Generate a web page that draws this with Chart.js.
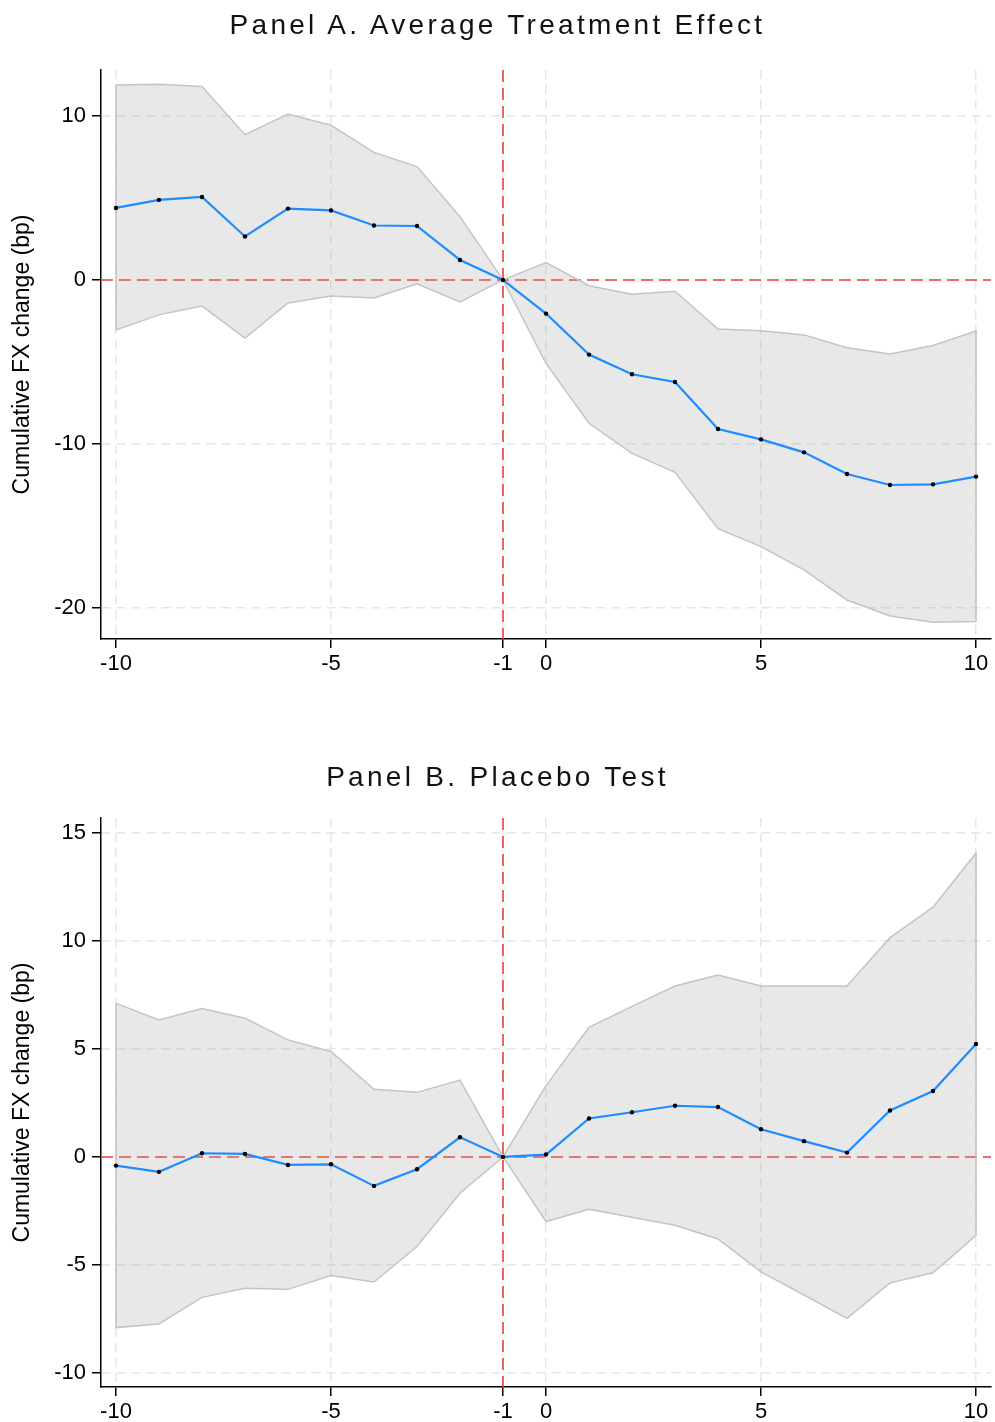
<!DOCTYPE html>
<html>
<head>
<meta charset="utf-8">
<script src="https://cdn.jsdelivr.net/npm/chart.js@4.4.1/dist/chart.umd.min.js"></script>
<style>
  body { margin: 0; background: #fff; }
  #page { position: relative; width: 995px; height: 1422px; }
  canvas { position: absolute; left: 0; }
  .title {
    position: absolute; left: 0; width: 995px; text-align: center;
    font-family: "Liberation Sans", Arial, sans-serif; font-size: 28px; line-height: 28px;
    letter-spacing: 3.3px; color: #111; z-index: 2;
  }
</style>
</head>
<body>
<div id="page">
  <div class="title" style="top:11px">Panel A. Average Treatment Effect</div>
  <canvas id="chartA" width="995" height="674" style="top:0"></canvas>
  <div class="title" style="top:763px">Panel B. Placebo Test</div>
  <canvas id="chartB" width="995" height="674" style="top:748px"></canvas>
</div>
<script>
// event time (periods relative to the event)
const periods = [-10, -9, -8, -7, -6, -5, -4, -3, -2, -1, 0, 1, 2, 3, 4, 5, 6, 7, 8, 9, 10];
const xTicks = [-10, -5, -1, 0, 5, 10];
const eventPeriod = -1;

// Panel A: average treatment effect
const ateCoef  = [4.39, 4.88, 5.06, 2.65, 4.35, 4.24, 3.32, 3.29, 1.22, 0, -2.05, -4.55, -5.75, -6.22, -9.09, -9.72, -10.51, -11.83, -12.50, -12.46, -11.99];
const ateUpper = [11.89, 11.93, 11.79, 8.86, 10.12, 9.43, 7.78, 6.91, 3.86, 0, 1.06, -0.35, -0.87, -0.69, -2.99, -3.09, -3.35, -4.13, -4.51, -4.00, -3.11];
const ateLower = [-3.05, -2.13, -1.59, -3.54, -1.40, -0.98, -1.10, -0.24, -1.34, 0, -5.08, -8.74, -10.57, -11.73, -15.16, -16.26, -17.68, -19.51, -20.49, -20.87, -20.83];
const ateYTicks = [-20, -10, 0, 10];

// Panel B: placebo test
const pboCoef  = [-0.40, -0.69, 0.17, 0.14, -0.37, -0.34, -1.34, -0.57, 0.91, 0, 0.11, 1.78, 2.07, 2.37, 2.31, 1.28, 0.73, 0.20, 2.15, 3.05, 5.23];
const pboUpper = [7.11, 6.34, 6.87, 6.42, 5.42, 4.88, 3.13, 2.99, 3.56, 0, 3.30, 6.00, 6.97, 7.91, 8.42, 7.91, 7.91, 7.91, 10.15, 11.56, 14.07];
const pboLower = [-7.90, -7.73, -6.50, -6.08, -6.13, -5.49, -5.79, -4.15, -1.68, 0, -2.99, -2.42, -2.79, -3.16, -3.80, -5.32, -6.39, -7.47, -5.83, -5.36, -3.63];
const pboYTicks = [-10, -5, 0, 5, 10, 15];

const yTitle = 'Cumulative FX change (bp)';
const fontFamily = '"Liberation Sans", Arial, sans-serif';

// red dashed reference lines at the event period and at zero
const refLines = {
    id: 'refLines',
    beforeDatasetsDraw(chart) {
        const { ctx, chartArea: a, scales: { x, y } } = chart;
        ctx.save();
        ctx.strokeStyle = '#ee3b3b';
        ctx.lineWidth = 1.6;
        ctx.setLineDash([12, 6]);
        const py = y.getPixelForValue(0);
        ctx.beginPath();
        ctx.moveTo(a.left, py);
        ctx.lineTo(a.right, py);
        ctx.stroke();
        const px = x.getPixelForValue(eventPeriod);
        ctx.beginPath();
        ctx.moveTo(px, a.top);
        ctx.lineTo(px, a.bottom);
        ctx.stroke();
        ctx.restore();
    }
};

function makeChart(id, coef, upper, lower, yTicks, yMin, yMax) {
    // confidence band as one closed shape: upper edge forward, lower edge back
    const band = periods.map((p, i) => ({ x: p, y: upper[i] }));
    for (let i = periods.length - 1; i >= 0; i--) band.push({ x: periods[i], y: lower[i] });
    band.push(band[0]);

    const line = periods.map((p, i) => ({ x: p, y: coef[i] }));

    return new Chart(document.getElementById(id), {
        type: 'line',
        data: {
            datasets: [
                {
                    data: line,
                    borderColor: '#1e8cff',
                    borderWidth: 2.2,
                    pointRadius: 2.2,
                    pointBackgroundColor: '#000',
                    pointBorderWidth: 0,
                    tension: 0,
                    fill: false,
                    order: 0
                },
                {
                    data: band,
                    borderColor: '#c4c4c4',
                    borderWidth: 1.5,
                    backgroundColor: 'rgba(165,165,165,0.25)',
                    pointRadius: 0,
                    tension: 0,
                    fill: 'shape',
                    order: 1
                }
            ]
        },
        options: {
            responsive: false,
            animation: false,
            layout: { padding: { top: 70, right: 3, left: 0, bottom: 0 } },
            plugins: {
                legend: { display: false },
                tooltip: { enabled: false }
            },
            scales: {
                x: {
                    type: 'linear',
                    min: -10.348,
                    max: 10.348,
                    afterBuildTicks: s => { s.ticks = xTicks.map(v => ({ value: v })); },
                    afterFit: s => { s.height = 35; },
                    grid: {
                        color: c => (c.tick && c.tick.value === eventPeriod) ? 'rgba(0,0,0,0)' : '#e6e6e6',
                        lineWidth: 1.5,
                        tickLength: 9,
                        tickColor: '#000',
                        tickWidth: 1.5
                    },
                    border: { display: true, color: '#000', width: 1.5, dash: [9, 6] },
                    ticks: {
                        color: '#000',
                        font: { family: fontFamily, size: 22 },
                        padding: 3,
                        autoSkip: false,
                        maxRotation: 0,
                        callback: v => String(v)
                    }
                },
                y: {
                    min: yMin,
                    max: yMax,
                    afterBuildTicks: s => { s.ticks = yTicks.map(v => ({ value: v })); },
                    afterFit: s => { s.width = 101; },
                    grid: {
                        color: c => (c.tick && c.tick.value === 0) ? 'rgba(0,0,0,0)' : '#e6e6e6',
                        lineWidth: 1.5,
                        tickLength: 9,
                        tickColor: '#000',
                        tickWidth: 1.5
                    },
                    border: { display: true, color: '#000', width: 1.5, dash: [9, 6] },
                    ticks: {
                        color: '#000',
                        font: { family: fontFamily, size: 22 },
                        padding: 6,
                        callback: v => String(v)
                    },
                    title: {
                        display: true,
                        text: yTitle,
                        color: '#000',
                        font: { family: fontFamily, size: 23 },
                        padding: { top: 9, bottom: 0 }
                    }
                }
            }
        },
        plugins: [refLines]
    });
}

makeChart('chartA', ateCoef, ateUpper, ateLower, ateYTicks, -21.89, 12.80);
makeChart('chartB', pboCoef, pboUpper, pboLower, pboYTicks, -10.65, 15.69);
</script>
</body>
</html>
